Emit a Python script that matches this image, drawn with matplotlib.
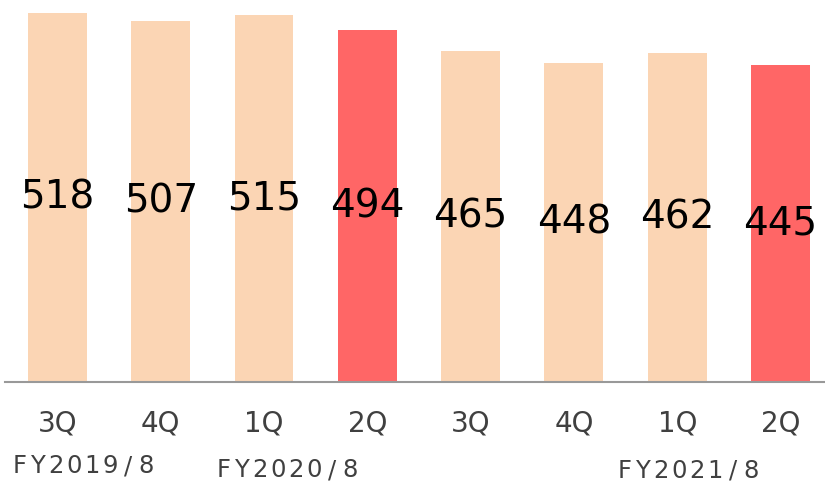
import matplotlib.pyplot as plt

quarters = ['3Q', '4Q', '1Q', '2Q', '3Q', '4Q', '1Q', '2Q']
values = [518, 507, 515, 494, 465, 448, 462, 445]
highlight = [False, False, False, True, False, False, False, True]
fy_labels = ['FY2019/8', 'FY2020/8', 'FY2021/8']

W, H = 825, 483
fig = plt.figure(figsize=(W / 100, H / 100), dpi=100)
ax = fig.add_axes([5 / W, 1 - 382 / H, 820 / W, 382 / H])

colors = ['#FF6666' if h else '#FBD5B4' for h in highlight]
x = list(range(len(values)))
ax.bar(x, values, width=0.57, color=colors)

for xi, v in zip(x, values):
    ax.text(xi, v / 2, str(v), ha='center', va='center', fontsize=28, color='black')

ax.set_xlim(-0.508, 7.431)
ax.set_ylim(0, 536.2)
ax.set_yticks([])
for s in ['top', 'right', 'left']:
    ax.spines[s].set_visible(False)
ax.spines['bottom'].set_color('#999999')
ax.spines['bottom'].set_linewidth(1.5)
ax.set_xticks(x)
ax.set_xticklabels(quarters, fontsize=20, color='#404040')
ax.tick_params(axis='x', length=0, pad=20)


# fiscal year labels, letter spaced
def spaced_text(label, xc, yc, pitch=18.0):
    for i, ch in enumerate(label):
        fig.text((xc + i * pitch) / W, 1 - yc / H, ch, ha='center', va='center',
                 fontsize=17.5, color='#404040')


spaced_text(fy_labels[0], 20, 466)
spaced_text(fy_labels[1], 224, 470)
spaced_text(fy_labels[2], 625, 471)

fig.savefig('out.png', dpi=100)
